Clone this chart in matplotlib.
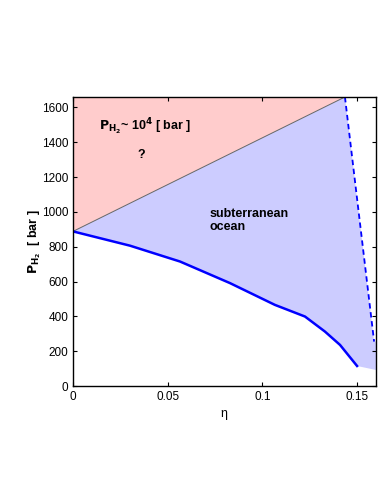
import numpy as np
import matplotlib
matplotlib.use('Agg')
import matplotlib.pyplot as plt

plt.rcParams['font.family'] = ['Liberation Sans', 'DejaVu Sans']

# lower boundary of the ocean region (solid curve)
eta_low = [0.0, 0.0301, 0.0565, 0.0829, 0.1066, 0.1225, 0.1330, 0.141, 0.150]
p_low = [888, 806, 715, 591, 466, 399, 313, 236, 115]

# upper boundary (straight line) and the dashed right boundary
eta_diag = [0.0, 0.1436]
p_diag = [888, 1660]
eta_dash = [0.1436, 0.159]
p_dash = [1660, 255]
eta_corner = [0.16, 0.16]
p_corner = [255, 92]

fig = plt.figure(figsize=(3.82, 4.94), dpi=100)
ax = fig.add_axes([73/382, 1-386/494, (376-73)/382, (386-97)/494])

# red region above the diagonal
ax.fill([0, eta_diag[1], 0], [p_diag[0], p_diag[1], p_diag[1]], color='#ffcccc', lw=0)

# blue region between the curves
bx = eta_diag + [eta_dash[1]] + eta_corner + eta_low[::-1]
by = p_diag + [p_dash[1]] + p_corner + p_low[::-1]
ax.fill(bx, by, color='#ccccff', lw=0)

ax.plot(eta_diag, p_diag, color='#666666', lw=0.7)
ax.plot(eta_low, p_low, color='#0000ff', lw=1.8)
ax.plot(eta_dash, p_dash, color='#0000ff', lw=1.3, ls=(0, (3, 2)))

ax.set_xlim(0, 0.16)
ax.set_ylim(0, 1660)
ax.set_xticks([0, 0.05, 0.1, 0.15])
ax.set_xticklabels(['0', '0.05', '0.1', '0.15'])
ax.set_yticks(range(0, 1601, 200))
ax.tick_params(direction='in', top=True, right=True, labelsize=8.5, length=3, width=0.8)
for s in ax.spines.values():
    s.set_linewidth(1.0)

ax.set_xlabel(r'$\mathregular{\eta}$', fontsize=9)
ax.set_ylabel(r'$\mathbf{P_{H_2}}$  [ bar ]', fontsize=9, fontweight='bold', labelpad=-1)

ax.text(0.0137, 1465, r'$\mathbf{P_{H_2}}$~ 10$^{\mathbf{4}}$ [ bar ]', fontsize=9, fontweight='bold')
ax.text(0.034, 1312, '?', fontsize=9, fontweight='bold')
ax.text(0.0723, 895, 'subterranean\nocean', fontsize=9, fontweight='bold', linespacing=1.1)

fig.savefig('out.png', dpi=100)
